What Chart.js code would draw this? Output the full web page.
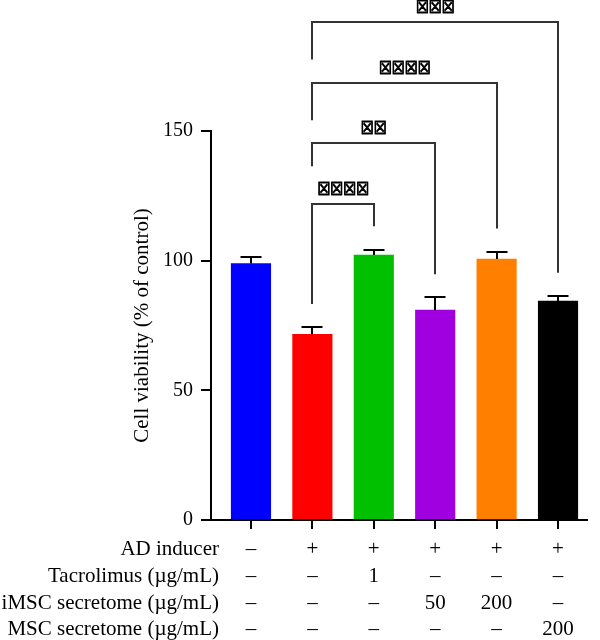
<!DOCTYPE html>
<html><head><meta charset="utf-8">
<script src="https://cdn.jsdelivr.net/npm/chart.js"></script>
<style>html,body{margin:0;padding:0;background:#fff}</style>
</head><body>
<canvas id="c" width="600" height="640"></canvas>
<script>
const groups = ['Control','AD','AD+Tacrolimus 1','AD+iMSC 50','AD+iMSC 200','AD+MSC 200'];
const viability = [98.9, 71.6, 102.2, 80.9, 100.6, 84.4];
const sd = [2.6, 2.7, 2.1, 4.9, 2.8, 1.9];
const barColors = ['#0000FF','#FF0000','#00C000','#A000E0','#FF8000','#000000'];
const yTicks = [0, 50, 100, 150];
const yTitle = 'Cell viability (% of control)';
const rowLabels = ['AD inducer','Tacrolimus (µg/mL)','iMSC secretome (µg/mL)','MSC secretome (µg/mL)'];
const rowAD   = ['–','+','+','+','+','+'];
const rowTac  = ['–','–','1','–','–','–'];
const rowIMSC = ['–','–','–','50','200','–'];
const rowMSC  = ['–','–','–','–','–','200'];
const sigFrom = [1, 1, 1, 1];
const sigTo   = [5, 4, 3, 2];
const sigMarks = ['☒☒☒','☒☒☒☒','☒☒','☒☒☒☒'];

const serif = '"Liberation Serif", "DejaVu Serif", serif';

const overlay = {
  id: 'overlay',
  afterDatasetsDraw(chart) {
    const ctx = chart.ctx, xs = chart.scales.x, ys = chart.scales.y;
    ctx.save();
    ctx.strokeStyle = '#000';
    ctx.lineWidth = 2;
    viability.forEach((v, i) => {
      const x = Math.round(xs.getPixelForValue(i));
      const yb = ys.getPixelForValue(v);
      const yt = Math.round(ys.getPixelForValue(v + sd[i]));
      ctx.beginPath();
      ctx.moveTo(x, yb); ctx.lineTo(x, yt);
      ctx.moveTo(x - 10.5, yt); ctx.lineTo(x + 10.5, yt);
      ctx.stroke();
    });
    ctx.restore();
  },
  afterDraw(chart) {
    const ctx = chart.ctx, xs = chart.scales.x, ys = chart.scales.y, ca = chart.chartArea;
    ctx.save();
    const levels = [192, 168.7, 145.2, 121.8];
    const leftEnds = [177.6, 154.1, 136.4, null];
    const gap = 9;
    ctx.lineJoin = 'miter';
    sigFrom.forEach((a, k) => {
      const b = sigTo[k];
      const x1 = Math.round(xs.getPixelForValue(a));
      const x2 = Math.round(xs.getPixelForValue(b));
      const yTop = Math.round(ys.getPixelForValue(levels[k]));
      const yl = ys.getPixelForValue(leftEnds[k] !== null ? leftEnds[k] : viability[a] + sd[a] + gap);
      const yr = ys.getPixelForValue(viability[b] + sd[b] + gap);
      ctx.strokeStyle = '#333';
      ctx.lineWidth = 2;
      ctx.beginPath();
      ctx.moveTo(x1, yl); ctx.lineTo(x1, yTop); ctx.lineTo(x2, yTop); ctx.lineTo(x2, yr);
      ctx.stroke();
      ctx.save();
      ctx.translate((x1 + x2) / 2, yTop - 14);
      ctx.scale(0.8, 1);
      ctx.fillStyle = '#000';
      ctx.strokeStyle = '#000';
      ctx.lineWidth = 1;
      ctx.font = 'bold 18px "DejaVu Sans"';
      ctx.textAlign = 'center';
      ctx.textBaseline = 'middle';
      ctx.fillText(sigMarks[k], 0, 0);
      ctx.strokeText(sigMarks[k], 0, 0);
      ctx.restore();
    });
    ctx.fillStyle = '#000';
    ctx.save();
    ctx.translate(142, (ca.top + ca.bottom) / 2);
    ctx.rotate(-Math.PI / 2);
    ctx.font = '21px ' + serif;
    ctx.textAlign = 'center';
    ctx.textBaseline = 'middle';
    ctx.fillText(yTitle, 0, 0);
    ctx.restore();
    const rows = [rowAD, rowTac, rowIMSC, rowMSC];
    const offs = [35, 62, 89, 115];
    ctx.font = '21px ' + serif;
    ctx.textBaseline = 'alphabetic';
    rows.forEach((row, r) => {
      const y = ca.bottom + offs[r];
      ctx.textAlign = 'right';
      ctx.fillText(rowLabels[r], ca.left + 8, y);
      ctx.textAlign = 'center';
      row.forEach((t, i) => ctx.fillText(t, xs.getPixelForValue(i), y));
    });
    ctx.restore();
  }
};

new Chart(document.getElementById('c'), {
  type: 'bar',
  data: {
    datasets: [{
      data: viability.map((v, i) => ({x: i, y: v})),
      backgroundColor: barColors,
      borderWidth: 0,
      barThickness: 39.5
    }]
  },
  options: {
    responsive: false,
    animation: false,
    devicePixelRatio: 1,
    layout: {padding: {left: 0, right: 13, top: 131, bottom: 0}},
    plugins: {legend: {display: false}, tooltip: {enabled: false}},
    scales: {
      x: {
        type: 'linear', min: -0.651, max: 5.472, offset: false,
        afterBuildTicks(s) { s.ticks = groups.map((_, i) => ({value: i})); },
        afterFit(s) { s.height = 120; },
        ticks: {display: false},
        grid: {offset: false, drawOnChartArea: false, drawTicks: true, tickLength: 9, color: '#000', lineWidth: 2},
        border: {color: '#000', width: 2}
      },
      y: {
        min: 0, max: 150,
        afterBuildTicks(s) { s.ticks = yTicks.map(v => ({value: v})); },
        afterFit(s) { s.width = 211; },
        ticks: {font: {family: serif, size: 20}, color: '#000', padding: 8},
        grid: {drawOnChartArea: false, drawTicks: true, tickLength: 10, color: '#000', lineWidth: 2},
        border: {color: '#000', width: 2}
      }
    }
  },
  plugins: [overlay]
});
</script>
</body></html>
